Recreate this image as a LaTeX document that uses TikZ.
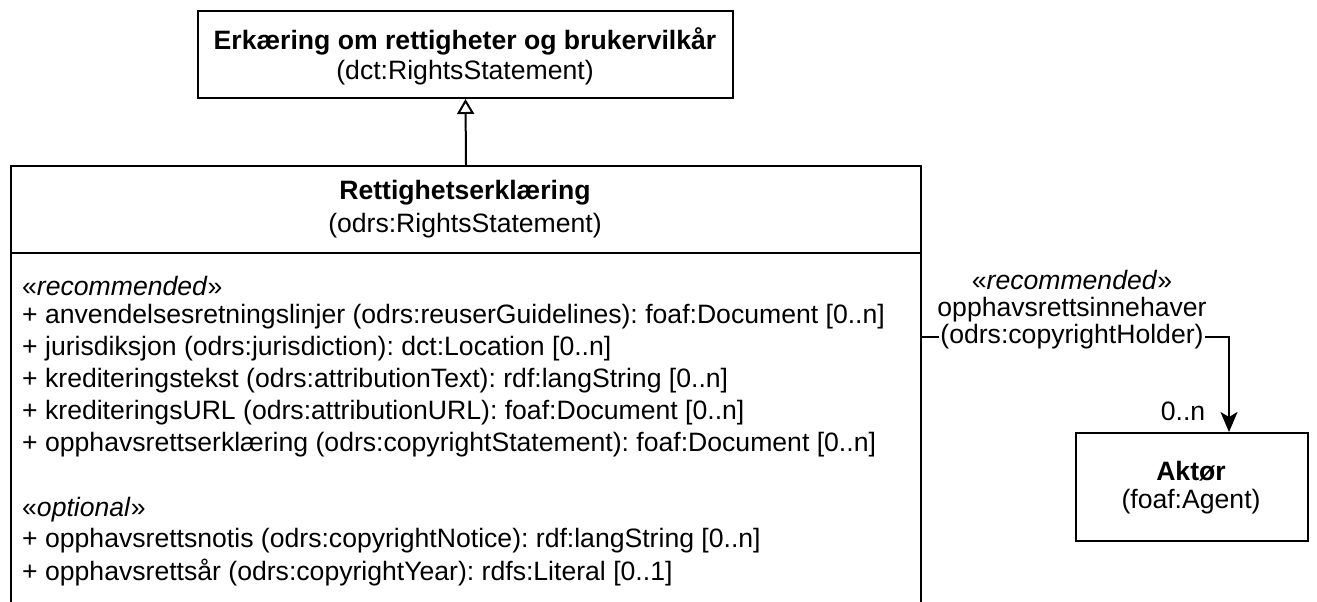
\documentclass[tikz,border=0pt]{standalone}
\usepackage{fontspec}
\setmainfont{Liberation Sans}
\usetikzlibrary{arrows.meta}
\frenchspacing
\begin{document}
\begin{tikzpicture}[x=1pt,y=-1pt,
  box/.style={draw,line width=2pt,inner sep=0pt},
  txt/.style={inner sep=0pt,font=\fontsize{26.6}{32}\selectfont},
  btxt/.style={inner sep=0pt,font=\fontsize{26.6}{32}\selectfont\bfseries},
  attr/.style={txt,anchor=west},
  link/.style={line width=2pt}]
\useasboundingbox (0,0) rectangle (1317,602);
\clip (0,0) rectangle (1317,602);
% super class
\node[box,minimum width=535,minimum height=87,anchor=north west] (sup) at (197,10) {};
\node[btxt] (supt) at (465,41) {Erkæring om rettigheter og brukervilkår};
\node[txt] (supn) at (465,73) {(dct:RightsStatement)};
% main class
\node[box,minimum width=910,minimum height=480,anchor=north west] (main) at (10,165) {};
\draw[line width=2pt] (10,253) -- (920,253);
\node[btxt] (mt) at (465,193) {Rettighetserklæring};
\node[txt] (mn) at (465,226) {(odrs:RightsStatement)};
\node[attr] (s1) at (22,286) {«\textit{recommended}»};
\node[attr] (a1) at (22,317) {+ anvendelsesretningslinjer (odrs:reuserGuidelines): foaf:Document [0..n]};
\node[attr] (a2) at (22,349) {+ jurisdiksjon (odrs:jurisdiction): dct:Location [0..n]};
\node[attr] (a3) at (22,381) {+ krediteringstekst (odrs:attributionText): rdf:langString [0..n]};
\node[attr] (a4) at (22,413) {+ krediteringsURL (odrs:attributionURL): foaf:Document [0..n]};
\node[attr] (a5) at (22,445) {+ opphavsrettserklæring (odrs:copyrightStatement): foaf:Document [0..n]};
\node[attr] (s2) at (22,510) {«\textit{optional}»};
\node[attr] (b1) at (22,541) {+ opphavsrettsnotis (odrs:copyrightNotice): rdf:langString [0..n]};
\node[attr] (b2) at (22,573) {+ opphavsrettsår (odrs:copyrightYear): rdfs:Literal [0..1]};
% agent
\node[box,minimum width=232,minimum height=108,anchor=north west] (ag) at (1075,432) {};
\node[btxt] (agt) at (1191,471) {Aktør};
\node[txt] (agn) at (1191,502) {(foaf:Agent)};
% generalization
\draw[link,-{Triangle[open,length=15pt,width=17pt,line width=2pt]}] (main.north) -- (sup.south);
% association
\coordinate (st) at (920,337);
\draw[link,-{Stealth[length=20pt,width=17pt,inset=5pt]}] (st) -| ([xshift=37]ag.north);
\node[txt,fill=white,inner xsep=1pt,inner ysep=2pt] (lbl) at (1072,337) {(odrs:copyrightHolder)};
\node[txt] (lbl2) at (1072,310) {opphavsrettsinnehaver};
\node[txt] (lbl1) at (1072,280) {«\textit{recommended}»};
\node[txt] (mult) at (1183,411) {0..n};
\end{tikzpicture}
\end{document}
